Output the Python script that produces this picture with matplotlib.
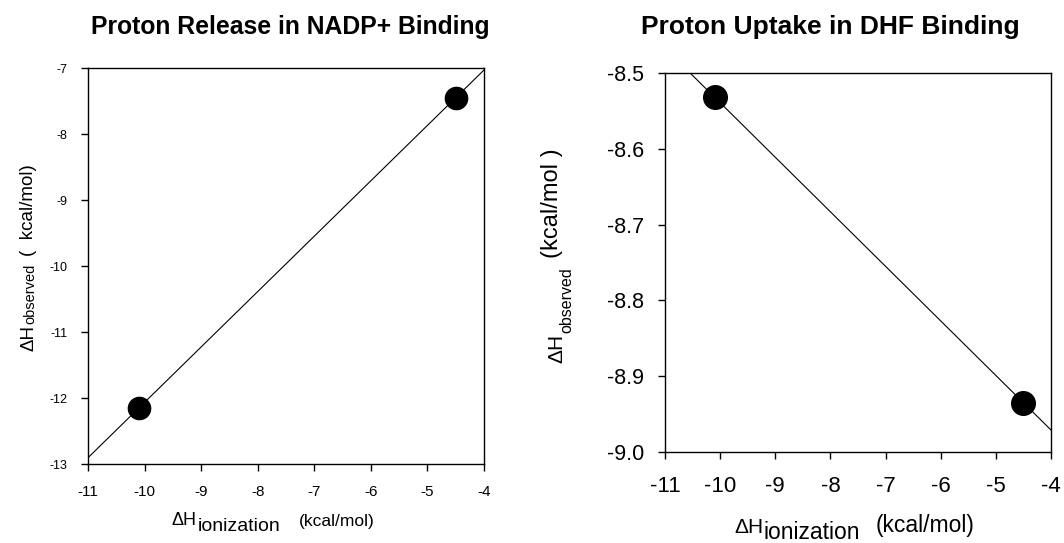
import matplotlib
matplotlib.use('Agg')
import matplotlib.pyplot as plt
import numpy as np

plt.rcParams['font.family'] = ['Liberation Sans', 'DejaVu Sans']
plt.rcParams['axes.unicode_minus'] = False

# data
nadp_x = [-10.1, -4.5]
nadp_y = [-12.15, -7.45]
dhf_x = [-10.1, -4.5]
dhf_y = [-8.532, -8.935]

x_ticks = [-11, -10, -9, -8, -7, -6, -5, -4]
left_yticks = [-13, -12, -11, -10, -9, -8, -7]
right_yticks = [-9.0, -8.9, -8.8, -8.7, -8.6, -8.5]

W, H = 1064, 543
fig = plt.figure(figsize=(W / 100, H / 100), dpi=100)
ax1 = fig.add_axes([88 / W, 1 - 464 / H, 396 / W, 396 / H])
ax2 = fig.add_axes([665 / W, 1 - 452 / H, 386 / W, 379 / H])


def fit_line(ax, x, y, ms):
    k, b = np.polyfit(x, y, 1)
    xx = np.array([-11.5, -3.5])
    ax.plot(xx, k * xx + b, color='black', linewidth=0.8, zorder=2)
    ax.plot(x, y, 'o', color='black', markersize=ms, zorder=3, clip_on=False)


def hlabel(ax, x, y, parts):
    # parts: (text, size, drop in points, gap in points)
    prev = None
    for txt, size, drop, gap in parts:
        if prev is None:
            prev = fig.text(x / W, 1 - y / H, txt, fontsize=size, va='baseline', ha='left')
        else:
            prev = ax.annotate(txt, xy=(1, 0), xycoords=prev, xytext=(gap, -drop),
                               textcoords='offset points', fontsize=size,
                               ha='left', va='bottom', annotation_clip=False)


def vlabel(ax, x, y, parts):
    prev = None
    for txt, size, drop, gap in parts:
        if prev is None:
            prev = fig.text(x / W, 1 - y / H, txt, fontsize=size, rotation=90,
                            ha='right', va='bottom')
        else:
            prev = ax.annotate(txt, xy=(1, 1), xycoords=prev, xytext=(drop, gap),
                               textcoords='offset points', fontsize=size, rotation=90,
                               ha='right', va='bottom', annotation_clip=False)


# left panel
fit_line(ax1, nadp_x, nadp_y, 16)
ax1.set_xlim(-11, -4)
ax1.set_ylim(-13, -7)
ax1.set_xticks(x_ticks)
ax1.set_yticks(left_yticks)
ax1.tick_params(direction='out', length=5, width=1)
ax1.tick_params(axis='x', labelsize=11, pad=10)
ax1.tick_params(axis='y', labelsize=9, pad=10)
fig.text(290 / W, 1 - 34 / H, 'Proton Release in NADP+ Binding', fontsize=17.8,
         fontweight='bold', ha='center', va='baseline')
hlabel(ax1, 172, 525, [('\u0394H', 13, 0, 0), ('ionization', 14, 4, 0.5),
                       ('(kcal/mol)', 12.5, -4, 13)])
vlabel(ax1, 37, 351, [('\u0394H', 13.5, 0, 0), ('observed', 10.5, 0, 0.5),
                      ('(  kcal/mol)', 13.5, 0, 6)])

# right panel
fit_line(ax2, dhf_x, dhf_y, 17)
ax2.set_xlim(-11, -4)
ax2.set_ylim(-9.0, -8.5)
ax2.set_xticks(x_ticks)
ax2.set_yticks(right_yticks)
ax2.set_yticklabels(['%.1f' % v for v in right_yticks])
ax2.tick_params(direction='out', length=5, width=1)
ax2.tick_params(axis='x', labelsize=16, pad=12)
ax2.tick_params(axis='y', labelsize=15.5, pad=10)
fig.text(830 / W, 1 - 34 / H, 'Proton Uptake in DHF Binding', fontsize=19,
         fontweight='bold', ha='center', va='baseline')
hlabel(ax2, 734, 533, [('\u0394H', 15, 0, 0), ('ionization', 16.5, 5, 0.5),
                       ('(kcal/mol)', 16.5, -5, 11)])
vlabel(ax2, 566, 363, [('\u0394H', 15, 0, 0), ('observed', 11.5, 6, 0.5),
                       ('(kcal/mol )', 17, -8, 7)])

for ax in (ax1, ax2):
    for s in ax.spines.values():
        s.set_linewidth(1.0)

fig.savefig('out.png', dpi=100)
plt.close(fig)
